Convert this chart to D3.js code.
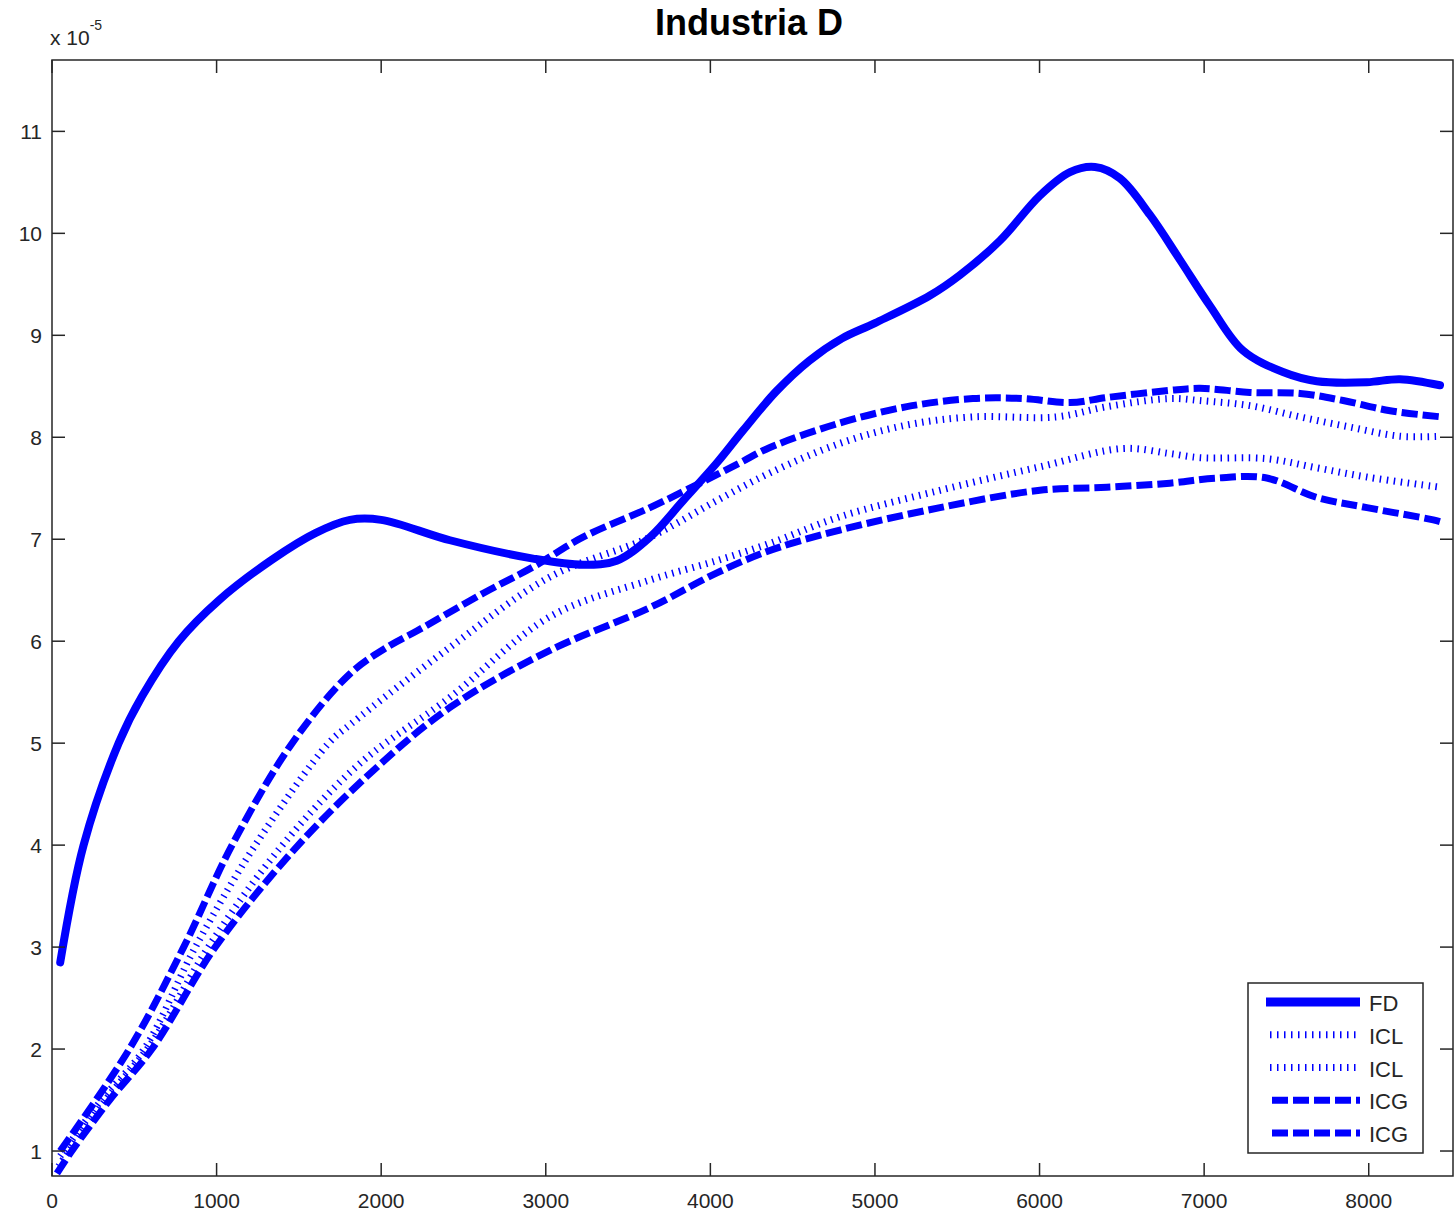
<!DOCTYPE html>
<html><head><meta charset="utf-8">
<script src="https://cdn.jsdelivr.net/npm/d3@7"></script>
<style>body{margin:0;background:#fff}svg{display:block}text{font-family:"Liberation Sans",Arial,sans-serif}</style>
</head><body><svg id="c" width="1455" height="1217"></svg>
<script>
const xTicks=[0,1000,2000,3000,4000,5000,6000,7000,8000];
const yTicks=[1,2,3,4,5,6,7,8,9,10,11];
const seriesNames=["FD","ICL","ICL","ICG","ICG"];
// FD (solid)
const fdX=[50,192,405,547,770,1013,1337,1600,1810,2000,2418,2923,3226,3431,3633,3835,4040,4200,4400,4600,4800,5000,5334,5516,5760,6002,6185,6337,6488,6671,6853,7035,7236,7479,7685,7989,8190,8433];
const fdY=[2.85,4.0,5.0,5.46,6.0,6.4,6.8,7.06,7.19,7.19,6.99,6.81,6.75,6.79,7.02,7.38,7.75,8.07,8.45,8.75,8.97,9.12,9.39,9.59,9.93,10.37,10.6,10.65,10.54,10.18,9.74,9.29,8.85,8.64,8.55,8.54,8.57,8.51];
// ICL upper (dotted)
const iclUX=[50,300,560,871,1235,1681,1810,2418,3025,3633,4040,4362,4787,5194,5595,6103,6409,6792,6975,7278,7582,7886,8190,8440];
const iclUY=[0.95,1.5,2.0,3.0,4.0,5.0,5.18,5.94,6.63,7.02,7.38,7.65,7.94,8.12,8.2,8.2,8.3,8.38,8.36,8.31,8.2,8.1,8.01,8.01];
// ICL lower (dotted)
const iclLX=[40,300,600,970,1400,1870,2418,3025,3633,4040,4362,4787,5395,6002,6507,6792,6975,7380,7685,7989,8433];
const iclLY=[0.85,1.45,2.05,3.05,4.0,4.8,5.45,6.24,6.6,6.79,6.96,7.22,7.48,7.71,7.89,7.84,7.8,7.79,7.7,7.61,7.51];
// ICG upper (dashed)
const icgUX=[50,470,800,1094,1459,1810,2045,2216,2620,2925,3226,3633,3937,4180,4362,4787,5194,5595,5899,6185,6409,6792,6975,7278,7582,7845,8130,8440];
const icgUY=[1.0,2.0,3.0,4.0,5.0,5.68,5.95,6.1,6.47,6.73,7.02,7.31,7.55,7.75,7.9,8.14,8.3,8.38,8.38,8.34,8.39,8.46,8.48,8.44,8.43,8.36,8.26,8.2];
// ICG lower (dashed)
const icgLX=[30,120,350,607,992,1468,1944,2418,3025,3633,4040,4362,4787,5395,6002,6409,6792,7077,7380,7685,7989,8392,8440];
const icgLY=[0.78,1.0,1.5,2.0,3.0,3.95,4.72,5.35,5.91,6.33,6.67,6.89,7.09,7.31,7.48,7.51,7.55,7.6,7.6,7.41,7.31,7.19,7.17];

const svg=d3.select("#c");
const L=52,R=1453,T=60,B=1176;
const x=d3.scaleLinear().domain([0,8512]).range([L,R]);
const y=d3.scaleLinear().domain([0.755,11.70]).range([B,T]);
const axisCol="#262626";
svg.append("rect").attr("x",L).attr("y",T).attr("width",R-L).attr("height",B-T).attr("fill","#fff");

svg.append("clipPath").attr("id","clp").append("rect").attr("x",L).attr("y",T).attr("width",R-L).attr("height",B-T);
const blue="#0000ff";
const styles=[
 {w:8,dash:null},
 {w:7,dash:"1.5,5.5"},
 {w:7,dash:"1.5,5.5"},
 {w:7,dash:"16,5"},
 {w:7,dash:"16,5"}];
const data=[[fdX,fdY],[iclUX,iclUY],[iclLX,iclLY],[icgUX,icgUY],[icgLX,icgLY]];
const line=d3.line().x(d=>x(d[0])).y(d=>y(d[1])).curve(d3.curveCatmullRom.alpha(0.5));
const plot=svg.append("g").attr("clip-path","url(#clp)");
data.forEach((s,i)=>{
  const pts=s[0].map((v,k)=>[v,s[1][k]]);
  plot.append("path").attr("d",line(pts)).attr("fill","none").attr("stroke",blue)
   .attr("stroke-width",styles[i].w).attr("stroke-dasharray",styles[i].dash)
   .attr("stroke-linejoin","round").attr("stroke-linecap",i===0?"round":"butt");
});

// axes with inward ticks
const tl=13;
const fmt=d3.format("d");
const ax=svg.append("g").attr("stroke",axisCol).attr("stroke-width",1.5);
xTicks.forEach(t=>{
  ax.append("line").attr("x1",x(t)).attr("x2",x(t)).attr("y1",B).attr("y2",B-tl);
  ax.append("line").attr("x1",x(t)).attr("x2",x(t)).attr("y1",T).attr("y2",T+tl);
});
yTicks.forEach(t=>{
  ax.append("line").attr("x1",L).attr("x2",L+tl).attr("y1",y(t)).attr("y2",y(t));
  ax.append("line").attr("x1",R).attr("x2",R-tl).attr("y1",y(t)).attr("y2",y(t));
});
svg.append("rect").attr("x",L).attr("y",T).attr("width",R-L).attr("height",B-T).attr("fill","none").attr("stroke",axisCol).attr("stroke-width",1.5);

const tx=svg.append("g").attr("fill",axisCol).attr("font-size",21);
xTicks.forEach(t=>tx.append("text").attr("x",x(t)).attr("y",B+32).attr("text-anchor","middle").text(fmt(t)));
yTicks.forEach(t=>tx.append("text").attr("x",L-10).attr("y",y(t)+8).attr("text-anchor","end").text(fmt(t)));

// exponent label
const ex=svg.append("text").attr("x",50).attr("y",45).attr("fill",axisCol).attr("font-size",21);
ex.append("tspan").text("x 10");
ex.append("tspan").attr("dy",-15).attr("font-size",14).text("-5");

// title
svg.append("text").attr("x",749).attr("y",35).attr("text-anchor","middle").attr("font-weight","bold")
  .attr("font-size",36).attr("fill","#000").text("Industria D");

// legend
const lg=svg.append("g");
lg.append("rect").attr("x",1248).attr("y",983).attr("width",175).attr("height",170).attr("fill","#fff").attr("stroke",axisCol).attr("stroke-width",1.5);
const ly=d3.scaleLinear().domain([0,4]).range([1002,1133]);
seriesNames.forEach((n,i)=>{
  const yy=ly(i);
  const off=i>=3?6:(i>=1?4:0);
  lg.append("line").attr("x1",1266+off).attr("x2",1360).attr("y1",yy).attr("y2",yy)
    .attr("stroke",blue).attr("stroke-width",i===0?9:styles[i].w).attr("stroke-dasharray",styles[i].dash)
    .attr("stroke-linecap","butt");
  lg.append("text").attr("x",1369).attr("y",yy+9).attr("font-size",22).attr("fill",axisCol).text(n);
});
</script></body></html>
